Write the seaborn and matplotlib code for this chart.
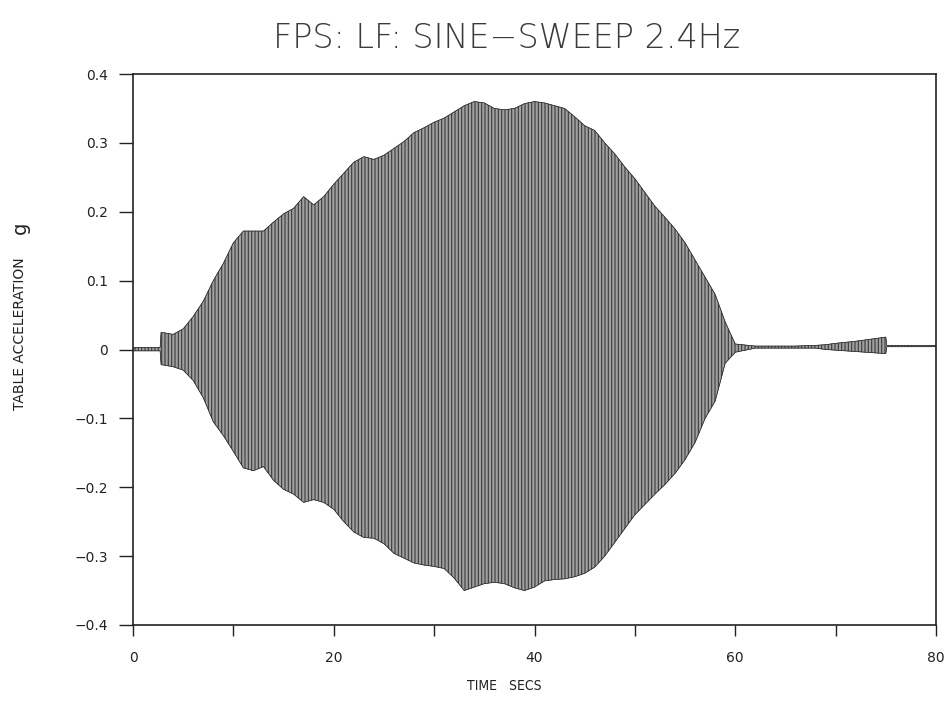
import matplotlib
matplotlib.use("Agg")
import matplotlib.pyplot as plt
import seaborn as sns
import pandas as pd

# ---- data (envelope of the sine-sweep record) ----
time_s = [0, 2.7, 2.8, 4, 5, 6, 7, 8, 9, 10, 11, 12, 13, 14, 15, 16, 17, 18, 19,
          20, 21, 22, 23, 24, 25, 26, 27, 28, 29, 30, 31, 32, 33, 34, 35, 36, 37,
          38, 39, 40, 41, 42, 43, 44, 45, 46, 47, 48, 49, 50, 51, 52, 53, 54, 55,
          56, 57, 58, 59, 60, 62, 64, 66, 68, 69, 70, 72, 74, 75, 75.1, 80]
upper_g = [0.003, 0.003, 0.025, 0.022, 0.030, 0.048, 0.070, 0.100, 0.125, 0.155,
           0.172, 0.172, 0.172, 0.185, 0.197, 0.205, 0.222, 0.210, 0.222, 0.240,
           0.256, 0.272, 0.280, 0.276, 0.282, 0.292, 0.302, 0.315, 0.322, 0.330,
           0.336, 0.345, 0.354, 0.360, 0.358, 0.350, 0.348, 0.350, 0.357, 0.360,
           0.358, 0.354, 0.350, 0.338, 0.325, 0.318, 0.300, 0.284, 0.265, 0.248,
           0.228, 0.208, 0.192, 0.175, 0.155, 0.130, 0.105, 0.080, 0.040, 0.008,
           0.005, 0.005, 0.005, 0.006, 0.007, 0.009, 0.012, 0.016, 0.018, 0.006, 0.006]
lower_g = [-0.002, -0.002, -0.022, -0.025, -0.030, -0.045, -0.070, -0.105, -0.125,
           -0.148, -0.172, -0.176, -0.170, -0.190, -0.203, -0.210, -0.222, -0.218,
           -0.222, -0.232, -0.250, -0.265, -0.273, -0.274, -0.282, -0.296, -0.303,
           -0.310, -0.313, -0.315, -0.318, -0.332, -0.350, -0.345, -0.340, -0.338,
           -0.340, -0.346, -0.350, -0.345, -0.336, -0.334, -0.333, -0.330, -0.325,
           -0.316, -0.300, -0.280, -0.260, -0.240, -0.225, -0.210, -0.196, -0.180,
           -0.160, -0.135, -0.100, -0.075, -0.020, -0.004, 0.002, 0.002, 0.002,
           0.002, 0.000, -0.001, -0.003, -0.005, -0.006, 0.004, 0.004]

x_ticks = [0, 10, 20, 30, 40, 50, 60, 70, 80]
x_ticklabels = ["0", "", "20", "", "40", "", "60", "", "80"]
y_ticks = [-0.4, -0.3, -0.2, -0.1, 0, 0.1, 0.2, 0.3, 0.4]
y_ticklabels = ["\u22120.4", "\u22120.3", "\u22120.2", "\u22120.1", "0",
                "0.1", "0.2", "0.3", "0.4"]

title = "FPS: LF: SINE\u2212SWEEP 2.4Hz"
xlabel = "TIME   SECS"
ylabel = "TABLE ACCELERATION"
ylabel_unit = "g"

df = pd.DataFrame({"t": time_s, "upper": upper_g, "lower": lower_g})

sns.set_style("ticks")
plt.rcParams["font.family"] = ["DejaVu Sans"]
plt.rcParams["hatch.color"] = "#151515"
plt.rcParams["hatch.linewidth"] = 0.8

W, H = 951, 702
fig = plt.figure(figsize=(W / 100, H / 100), dpi=100)
ax = fig.add_axes([133 / W, 1 - 625 / H, (936 - 133) / W, (625 - 74) / H])

ax.fill_between(df["t"], df["lower"], df["upper"], facecolor="#a0a0a0",
                edgecolor="#3a3a3a", hatch="|||||", linewidth=0.3)
sns.lineplot(data=df, x="t", y="upper", ax=ax, color="#2a2a2a", linewidth=0.5)
sns.lineplot(data=df, x="t", y="lower", ax=ax, color="#2a2a2a", linewidth=0.5)

ax.set_xlim(0, 80)
ax.set_ylim(-0.4, 0.4)
ax.set_xticks(x_ticks)
ax.set_xticklabels(x_ticklabels)
ax.set_yticks(y_ticks)
ax.set_yticklabels(y_ticklabels)
ax.tick_params(axis="both", direction="out", color="#222222", labelcolor="#222222",
               labelsize=10, width=1.0)
ax.tick_params(axis="y", length=10, pad=8)
ax.tick_params(axis="x", length=8, pad=11)
for s in ax.spines.values():
    s.set_visible(True)
    s.set_color("#222222")
    s.set_linewidth(1.2)
ax.set_xlabel("")
ax.set_ylabel("")

fig.text(507 / W, 1 - 38 / H, title, ha="center", va="center", fontsize=24,
         color="#3a3a3a", fontweight="light")
fig.text(504 / W, 1 - 686 / H, xlabel, ha="center", va="center", fontsize=10,
         color="#222222", fontstretch="condensed")
fig.text(20 / W, 1 - 334 / H, ylabel, ha="center", va="center", fontsize=10,
         color="#222222", rotation=90)
fig.text(20 / W, 1 - 228 / H, ylabel_unit, ha="center", va="center", fontsize=14,
         color="#222222", rotation=90)

fig.savefig("out.png", dpi=100)
